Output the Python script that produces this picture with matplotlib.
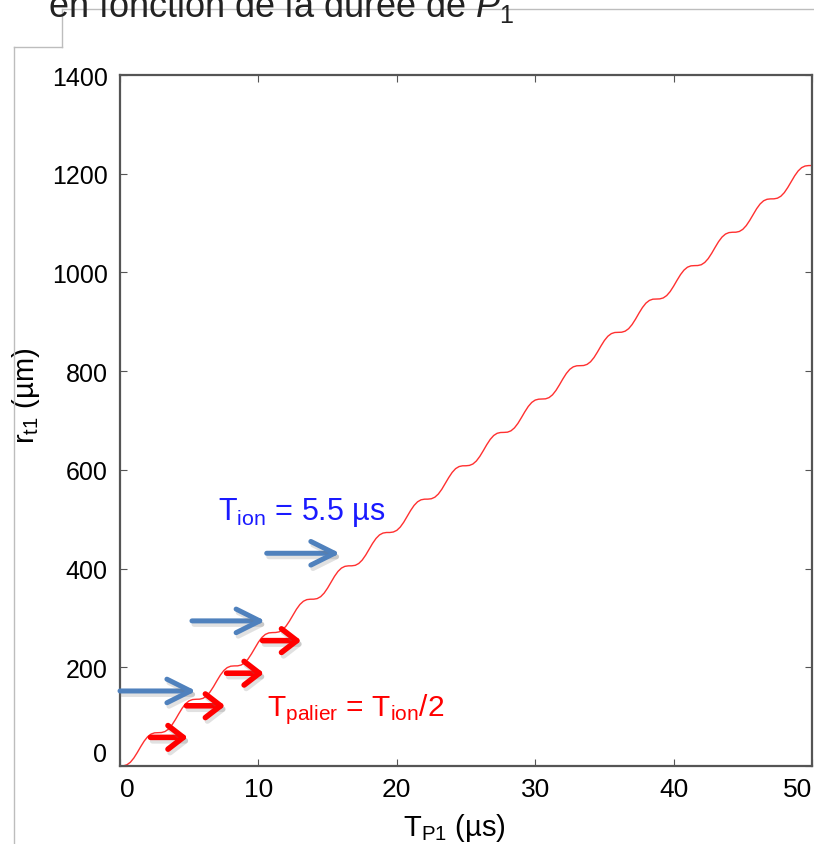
import numpy as np
import matplotlib
matplotlib.use("Agg")
import matplotlib.pyplot as plt
import matplotlib.patheffects as pe
from matplotlib.lines import Line2D
from matplotlib.patches import FancyArrowPatch

plt.rcParams['font.family'] = ['Liberation Sans', 'DejaVu Sans']
plt.rcParams['mathtext.fontset'] = 'custom'
plt.rcParams['mathtext.rm'] = 'Liberation Sans'
plt.rcParams['mathtext.it'] = 'Liberation Sans:italic'

# r_t1 (um), one value every 0.25 us from 0 to 50
r_t1 = [
    0, 0.3, 2.5, 7.6, 16.2, 27.3, 39.4, 50.6, 59.4, 64.8,
    67.2, 67.6, 67.8, 69.8, 74.7, 83.0, 93.9, 106.0, 117.4, 126.4,
    132.1, 134.7, 135.2, 135.4, 137.1, 141.8, 149.8, 160.5, 172.6, 184.1,
    193.4, 199.4, 202.2, 202.8, 202.9, 204.5, 208.8, 216.6, 227.2, 239.2,
    250.9, 260.3, 266.6, 269.6, 270.3, 270.5, 271.8, 276.0, 283.5, 293.9,
    305.9, 317.6, 327.3, 333.8, 337.1, 337.9, 338.0, 339.2, 343.1, 350.3,
    360.5, 372.5, 384.3, 394.2, 401.0, 404.5, 405.5, 405.6, 406.6, 410.3,
    417.2, 427.2, 439.1, 451.0, 461.1, 468.2, 471.9, 473.1, 473.1, 474.1,
    477.4, 484.1, 493.9, 505.7, 517.7, 528.0, 535.3, 539.3, 540.6, 540.7,
    541.5, 544.6, 551.0, 560.6, 572.3, 584.3, 594.8, 602.5, 606.7, 608.2,
    608.3, 609.0, 611.9, 618.0, 627.4, 638.9, 651.0, 661.7, 669.6, 674.1,
    675.7, 675.9, 676.4, 679.1, 685.0, 694.1, 705.6, 717.6, 728.5, 736.6,
    741.4, 743.2, 743.5, 743.9, 746.4, 752.0, 760.9, 772.2, 784.3, 795.3,
    803.7, 808.7, 810.8, 811.0, 811.4, 813.7, 819.0, 827.6, 838.8, 850.9,
    862.1, 870.7, 876.0, 878.3, 878.6, 878.9, 881.0, 886.0, 894.4, 905.4,
    917.6, 928.9, 937.8, 943.3, 945.8, 946.2, 946.4, 948.3, 953.1, 961.2,
    972.1, 984.2, 995.6, 1004.7, 1010.6, 1013.3, 1013.8, 1014.0, 1015.6, 1020.2,
    1028.0, 1038.7, 1050.8, 1062.4, 1071.7, 1077.8, 1080.7, 1081.4, 1081.5, 1083.0,
    1087.3, 1094.9, 1105.4, 1117.4, 1129.1, 1138.7, 1145.1, 1148.2, 1149.0, 1149.1,
    1150.4, 1154.4, 1161.7, 1172.1, 1184.0, 1195.8, 1205.6, 1212.3, 1215.6, 1216.5,
    1216.6,
]
t_p1 = np.linspace(0, 50, len(r_t1))

# annotation arrows (start t, end t, r)
blue_t0 = [10.6, 5.2, 0.0]
blue_t1 = [15.9, 10.5, 5.5]
blue_r = [431, 294, 152]
red_t0 = [2.2, 4.8, 7.7, 10.3]
red_t1 = [4.9, 7.6, 10.4, 13.1]
red_r = [58, 122, 188, 254]

x_ticks = [0, 10, 20, 30, 40, 50]
y_ticks = [0, 200, 400, 600, 800, 1000, 1200, 1400]

W, H = 814, 845
fig = plt.figure(figsize=(W / 100, H / 100), dpi=100)
ax = fig.add_axes([120 / W, 1 - 767 / H, 692 / W, 691 / H])

ax.plot(t_p1, r_t1, color='#ff3030', lw=1.0)

shadow = [pe.SimpleLineShadow(offset=(1.5, -2.5), shadow_color='#777777', alpha=0.22),
          pe.Normal()]
for a, b, r in zip(blue_t0, blue_t1, blue_r):
    arr = FancyArrowPatch((a, r), (b, r), arrowstyle='->,head_length=1.7,head_width=0.85',
                          mutation_scale=10, lw=3.6, color='#4f81bd',
                          shrinkA=0, shrinkB=0, clip_on=False, zorder=4)
    arr.set_path_effects(shadow)
    ax.add_patch(arr)
for a, b, r in zip(red_t0, red_t1, red_r):
    arr = FancyArrowPatch((a, r), (b, r), arrowstyle='->,head_length=1.1,head_width=0.85',
                          mutation_scale=10, lw=4.0, color='#ff0000',
                          shrinkA=0, shrinkB=0, clip_on=False, zorder=4)
    arr.set_path_effects(shadow)
    ax.add_patch(arr)

ax.text(13.1, 500, r'T$_{\mathrm{ion}}$ = 5.5 µs', color='#1a1aff', fontsize=22,
        ha='center', va='baseline')
ax.text(17.0, 103, r'T$_{\mathrm{palier}}$ = T$_{\mathrm{ion}}$/2', color='#ff0000',
        fontsize=21.5, ha='center', va='baseline')

ax.set_xlim(0, 50)
ax.set_ylim(0, 1400)
ax.set_xticks(x_ticks)
ax.set_yticks(y_ticks)
ax.tick_params(direction='in', length=5, width=0.8, color='#555555',
               top=True, right=True, labelsize=18, pad=9)
ax.tick_params(axis='x', labelsize=19, pad=8)
ax.get_xticklabels()[0].set_ha('left')
ax.get_xticklabels()[-1].set_ha('right')
ax.get_yticklabels()[0].set_va('bottom')
for s in ax.spines.values():
    s.set_color('#555555')
    s.set_linewidth(1.6)

ax.set_xlabel(r'T$_{\mathrm{P1}}$ (µs)', fontsize=21)
ax.set_ylabel(r'r$_{\mathrm{t1}}$ (µm)', fontsize=21)
ax.xaxis.set_label_coords(0.483, -0.065)
ax.yaxis.set_label_coords(-0.112, 0.538)

# slide frame lines and cut title
def px_line(x0, y0, x1, y1):
    fig.add_artist(Line2D([x0 / W, x1 / W], [1 - y0 / H, 1 - y1 / H],
                          transform=fig.transFigure, color='#bdbdbd', lw=1))

px_line(62, 10, W, 10)
px_line(62, 10, 62, 48)
px_line(14, 48, 62, 48)
px_line(14, 48, 14, H)

fig.text(48 / W, 1 - 17 / H, r'en fonction de la durée de $P_1$', fontsize=26,
         color='#222222', ha='left', va='baseline')

fig.savefig('out.png', dpi=100)
